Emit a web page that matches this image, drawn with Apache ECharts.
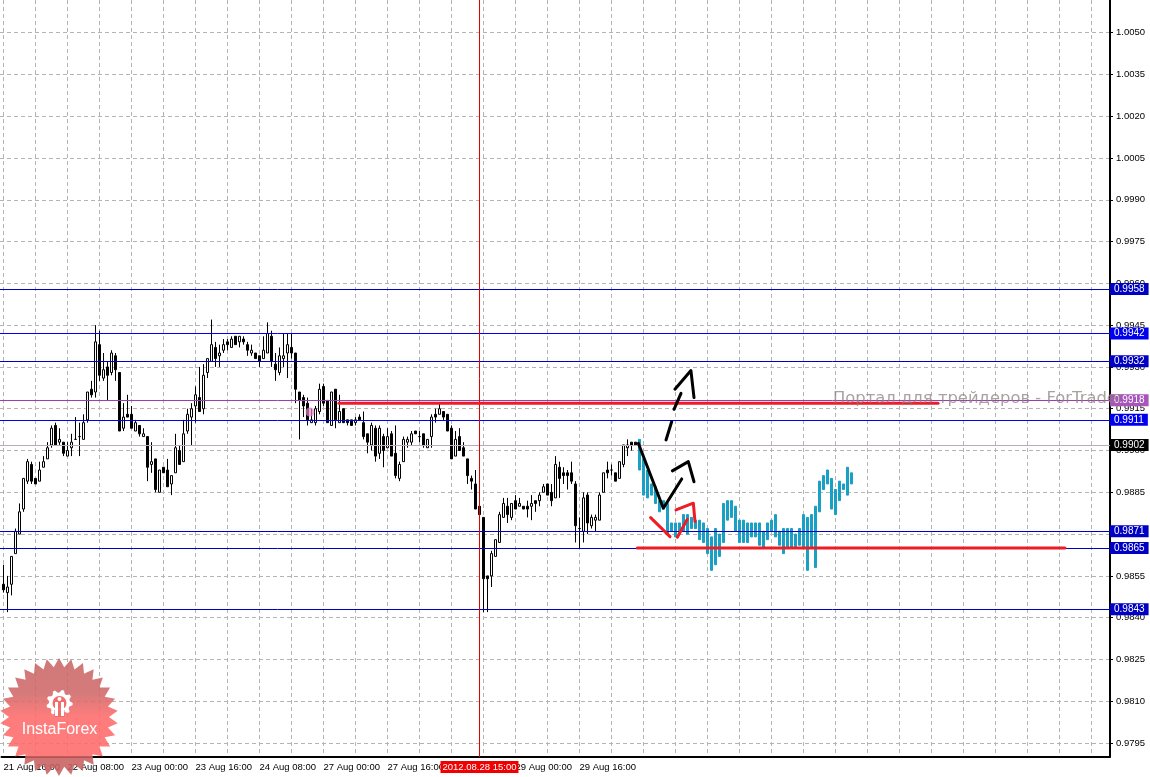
<!DOCTYPE html>
<html><head><meta charset="utf-8">
<style>html,body{margin:0;padding:0;background:#fff}#c{width:1150px;height:777px}</style>
<script src="https://cdn.jsdelivr.net/npm/echarts@6/dist/echarts.min.js"></script>
</head><body><div id="c"></div>
<script>
// price candles: [open, close, low, high], one per hourly bar
const candles = [
[.9852,.9850,.9849,.9859],[.9849,.9851,.9842,.9855],[.9852,.9862,.9848,.9862],
[.9863,.9871,.9863,.9872],[.9870,.9878,.9870,.9881],[.9879,.9890,.9878,.9890],[.9889,.9896,.9888,.9897],
[.9895,.9889,.9888,.9896],[.9890,.9888,.9888,.9890],[.9889,.9893,.9889,.9896],[.9894,.9896,.9894,.9898],
[.9897,.9901,.9897,.9903],[.9902,.9908,.9901,.9909],[.9909,.9902,.9902,.9910],[.9903,.9904,.9902,.9908],
[.9903,.9899,.9898,.9903],[.9898,.9900,.9898,.9903],[.9901,.9903,.9898,.9906],[.9904,.9904,.9904,.9912],
[.9905,.9905,.9898,.9910],[.9904,.9910,.9904,.9913],[.9911,.9921,.9910,.9921],[.9922,.9920,.9919,.9925],
[.9921,.9939,.9919,.9945],[.9938,.9927,.9925,.9943],[.9926,.9929,.9925,.9935],[.9930,.9927,.9918,.9932],
[.9928,.9935,.9927,.9936],[.9934,.9929,.9925,.9935],[.9928,.9907,.9907,.9928],[.9908,.9912,.9907,.9917],
[.9913,.9912,.9912,.9920],[.9913,.9908,.9908,.9916],[.9907,.9910,.9907,.9911],[.9909,.9906,.9905,.9909],
[.9905,.9906,.9905,.9908],[.9905,.9894,.9889,.9905],[.9895,.9896,.9892,.9903],[.9897,.9886,.9885,.9897],
[.9885,.9893,.9885,.9893],[.9894,.9892,.9892,.9894],[.9893,.9887,.9887,.9897],[.9888,.9891,.9884,.9891],
[.9892,.9901,.9892,.9906],[.9900,.9895,.9895,.9902],[.9896,.9906,.9896,.9911],[.9907,.9913,.9906,.9915],
[.9912,.9915,.9902,.9917],[.9916,.9920,.9910,.9923],[.9919,.9914,.9914,.9930],[.9915,.9927,.9913,.9931],
[.9928,.9933,.9926,.9933],[.9932,.9938,.9932,.9947],[.9937,.9933,.9930,.9939],[.9934,.9935,.9930,.9938],
[.9936,.9938,.9935,.9940],[.9939,.9938,.9936,.9940],[.9937,.9940,.9937,.9941],[.9941,.9938,.9938,.9941],
[.9939,.9941,.9937,.9941],[.9940,.9939,.9938,.9941],[.9938,.9936,.9934,.9939],[.9935,.9936,.9934,.9938],
[.9935,.9933,.9933,.9935],[.9934,.9932,.9930,.9934],[.9933,.9936,.9933,.9941],[.9935,.9942,.9935,.9946],
[.9941,.9932,.9930,.9943],[.9931,.9929,.9925,.9935],[.9928,.9934,.9927,.9937],[.9933,.9934,.9930,.9942],
[.9935,.9938,.9926,.9942],[.9937,.9935,.9933,.9942],[.9935,.9922,.9917,.9935],[.9921,.9918,.9904,.9921],
[.9919,.9916,.9912,.9920],[.9917,.9911,.9909,.9919],[.9910,.9911,.9910,.9915],[.9910,.9915,.9909,.9916],
[.9914,.9922,.9913,.9924],[.9923,.9917,.9916,.9924],[.9918,.9910,.9910,.9918],[.9909,.9921,.9909,.9921],
[.9922,.9911,.9908,.9922],[.9910,.9914,.9910,.9920],[.9915,.9910,.9910,.9915],[.9911,.9910,.9909,.9911],
[.9911,.9909,.9909,.9911],[.9910,.9911,.9909,.9912],[.9912,.9911,.9911,.9913],[.9910,.9905,.9904,.9914],
[.9906,.9903,.9899,.9906],[.9902,.9909,.9900,.9910],[.9908,.9898,.9896,.9909],[.9899,.9908,.9897,.9909],
[.9905,.9900,.9894,.9906],[.9901,.9905,.9901,.9908],[.9906,.9898,.9898,.9907],[.9899,.9891,.9890,.9909],
[.9890,.9895,.9889,.9896],[.9896,.9904,.9896,.9905],[.9903,.9904,.9901,.9905],[.9903,.9906,.9902,.9907],
[.9907,.9906,.9906,.9907],[.9905,.9905,.9903,.9907],[.9906,.9902,.9901,.9906],[.9901,.9904,.9901,.9904],
[.9905,.9912,.9901,.9913],[.9913,.9912,.9910,.9915],[.9913,.9915,.9913,.9917],[.9914,.9912,.9911,.9914],
[.9913,.9907,.9907,.9913],[.9908,.9897,.9897,.9909],[.9898,.9904,.9898,.9907],[.9905,.9900,.9900,.9908],
[.9901,.9898,.9898,.9903],[.9897,.9891,.9888,.9897],[.9890,.9889,.9886,.9891],[.9888,.9879,.9879,.9893],
[.9880,.9877,.9877,.9880],[.9876,.9854,.9842,.9876],[.9855,.9854,.9842,.9855],[.9855,.9863,.9851,.9864],
[.9862,.9868,.9862,.9868],[.9867,.9877,.9867,.9878],[.9876,.9881,.9876,.9883],[.9880,.9877,.9874,.9883],
[.9876,.9881,.9875,.9881],[.9882,.9879,.9879,.9884],[.9880,.9881,.9880,.9883],[.9880,.9879,.9879,.9880],
[.9880,.9879,.9876,.9882],[.9880,.9881,.9875,.9884],[.9882,.9881,.9878,.9882],[.9882,.9884,.9880,.9885],
[.9885,.9887,.9885,.9888],[.9888,.9884,.9884,.9888],[.9885,.9882,.9880,.9888],[.9883,.9895,.9883,.9898],
[.9894,.9890,.9883,.9896],[.9892,.9891,.9888,.9894],[.9892,.9891,.9886,.9893],[.9892,.9889,.9888,.9896],
[.9888,.9873,.9867,.9889],[.9872,.9872,.9865,.9876],[.9871,.9883,.9867,.9885],[.9884,.9874,.9870,.9885],
[.9873,.9876,.9872,.9877],[.9875,.9876,.9871,.9877],[.9875,.9884,.9875,.9885],[.9885,.9892,.9885,.9892],
[.9893,.9892,.9890,.9896],[.9893,.9893,.9891,.9895],[.9892,.9889,.9889,.9892],[.9890,.9896,.9890,.9896],
[.9895,.9902,.9894,.9902],[.9901,.9902,.9898,.9904],[.9903,.9902,.9900,.9903],[.9903,.9902,.9902,.9903]
];
// mirrored projection bars that continue the candles: [high, low]
const projection = [
[.9904,.9893],[.9897,.9884],[.9893,.9883],[.9888,.9884],[.9887,.9881],[.9882,.9878],[.9882,.9879],[.9881,.9870],
[.9874,.9871],[.9874,.9869],[.9874,.9871],[.9877,.9871],[.9877,.9870],[.9876,.9872],[.9875,.9872],[.9875,.9868],
[.9874,.9867],[.9872,.9863],[.9869,.9857],[.9872,.9859],[.9870,.9862],[.9881,.9867],[.9882,.9875],[.9882,.9876],
[.9880,.9871],[.9875,.9867],[.9875,.9867],[.9874,.9867],[.9874,.9869],[.9874,.9869],[.9874,.9866],[.9871,.9865],
[.9874,.9868],[.9875,.9871],[.9877,.9869],[.9871,.9866],[.9872,.9863],[.9872,.9865],[.9872,.9865],[.9870,.9865],
[.9872,.9866],[.9877,.9865],[.9876,.9857],[.9877,.9865],[.9880,.9858],[.9889,.9878],[.9891,.9886],[.9893,.9888],
[.9890,.9879],[.9886,.9877],[.9889,.9882],[.9888,.9886],[.9894,.9884],[.9892,.9888]
];
const priceTicks = [0.9795,0.9810,0.9825,0.9840,0.9855,0.9870,0.9885,0.9900,0.9915,0.9930,0.9945,0.9960,0.9975,0.9990,1.0005,1.0020,1.0035,1.0050];
const timeLabels = ['21 Aug 16:00','22 Aug 08:00','23 Aug 00:00','23 Aug 16:00','24 Aug 08:00','27 Aug 00:00','27 Aug 16:00','28 Aug 08:00','29 Aug 00:00','29 Aug 16:00'];
const crosshairTime = '2012.08.28 15:00';
const levelsDark = [0.9958,0.9932,0.9871,0.9865,0.9843];
const levelsBright = [0.9942,0.9911];
const levelMagenta = 0.9918;
const levelBid = 0.9902;
// hand drawn annotations as [bar number, price]
const blackMove = [[159.75,.99026],[166.0,.98793],[170.6,.98898]];
const blackHeadLow = [[168.25,.98927],[172.25,.98960],[173.67,.98888]];
const blackDash1 = [[166.67,.99038],[168.1,.99104]];
const blackDash2 = [[168.67,.99148],[170.42,.99205]];
const blackHeadHigh = [[168.9,.99220],[172.9,.99287],[173.67,.99190]];
const redStroke1 = [[162.83,.98759],[167.67,.98691]];
const redStroke2 = [[169.5,.98689],[172.0,.98753]];
const redHead = [[169.17,.98787],[173.5,.98811],[173.92,.98745]];
const redResistance = [[84.9,.9917],[234.67,.9917]];
const redSupport = [[159.5,.9865],[266.4,.9865]];
const crosshairBar = 120.04;

const N = 277, yMin = 0.97900, yMax = 1.00617;
const cats = Array.from({length:N},(_,i)=>(i%16===0 && timeLabels[i/16]) ? timeLabels[i/16] : 'b'+i);
const font = 'Liberation Sans';
const stroke = (data,color,z)=>({type:'line',xAxisIndex:0,yAxisIndex:0,data,symbol:'none',z:z||6,silent:true,animation:false,
  lineStyle:{color,width:3,cap:'round',join:'round'}});
const levelLabel = (bg,fg,txt)=>({show:true,position:'end',distance:0,formatter:txt,backgroundColor:bg,color:fg||'#fff',
  fontFamily:font,fontSize:10,padding:[1,4,1,4],lineHeight:10});
const lvl = (v,color,box,fg)=>({yAxis:v,lineStyle:{color,width:1,type:'solid'},label:levelLabel(box||color,fg,v.toFixed(4))});

const seal=[];const T=30,cx=59,cy=717;
for(let k=0;k<T*2;k++){const a=k*Math.PI/T-Math.PI/2,r=k%2?50:59;seal.push([cx+r*Math.cos(a),cy+r*Math.sin(a)]);}
const gear=[];const G=9,gx=59.5,gy=703;
for(let k=0;k<G*4;k++){const a=k*2*Math.PI/(G*4),r=(k%4<2)?13.2:10.5;gear.push([gx+r*Math.cos(a),gy+r*Math.sin(a)]);}

const chart = echarts.init(document.getElementById('c'),null,{renderer:'canvas'});
chart.setOption({
  animation:false,backgroundColor:'#fff',
  grid:[
    {left:0,top:0,width:1110,height:757,containLabel:false},
    {left:1.5,top:0,width:1108,height:757,containLabel:false}
  ],
  xAxis:[
    {gridIndex:0,type:'value',min:0.1675,max:277.67,show:false},
    {gridIndex:1,type:'category',data:cats,boundaryGap:true,position:'bottom',
      axisLine:{lineStyle:{color:'#000',width:2}},
      axisTick:{alignWithLabel:true,length:3,lineStyle:{color:'#000'},interval:(i)=>i%8===0},
      splitLine:{show:true,alignWithLabel:true,interval:(i)=>i%8===0,lineStyle:{color:'#b4b4b4',type:[4,3],width:1}},
      axisLabel:{interval:(i)=>i%16===0&&i<=144,align:'left',margin:5,color:'#000',fontFamily:font,fontSize:9.5,hideOverlap:false}
    }
  ],
  yAxis:[
    {gridIndex:0,type:'value',min:yMin,max:yMax,position:'right',
      axisLine:{show:true,onZero:false,lineStyle:{color:'#000',width:2}},
      axisTick:{show:true,length:3,lineStyle:{color:'#000'},customValues:priceTicks},
      splitLine:{show:true,lineStyle:{color:'#b4b4b4',type:[4,3],width:1}},
      axisLabel:{margin:6,color:'#000',fontFamily:font,fontSize:9.5,customValues:priceTicks,formatter:v=>v.toFixed(4)}
    },
    {gridIndex:1,type:'value',min:yMin,max:yMax,show:false,splitLine:{show:false}}
  ],
  series:[
    {type:'line',xAxisIndex:0,yAxisIndex:0,data:[],symbol:'none',z:5,silent:true,
      markLine:{silent:true,symbol:'none',animation:false,precision:5,z:5,
        data:[
          ...levelsDark.map(v=>lvl(v,'#0000c4')),
          ...levelsBright.map(v=>lvl(v,'#0000ee')),
          lvl(levelMagenta,'#9a3fb0','#a855bb'),
          {yAxis:levelBid,lineStyle:{color:'#b9abb9',width:1,type:'solid'},label:levelLabel('#000','#fff',levelBid.toFixed(4))},
          {xAxis:crosshairBar,lineStyle:{color:'#e00000',width:1,type:'solid'},
            label:{show:true,position:'start',distance:4,rotate:0,formatter:crosshairTime,backgroundColor:'#f00000',color:'#fff',fontFamily:font,fontSize:9.5,padding:[1,2,1,2]}}
        ]}
    },
    {name:'USD/CHF',type:'candlestick',xAxisIndex:1,yAxisIndex:1,data:candles,barWidth:3,z:3,
      itemStyle:{color:'#fff',color0:'#000',borderColor:'#000',borderColor0:'#000',borderWidth:1}},
    {name:'Projection',type:'candlestick',xAxisIndex:1,yAxisIndex:1,barWidth:3,z:4,
      data:new Array(candles.length).fill('-').concat(projection.map(p=>[p[1],p[0],p[1],p[0]])),
      itemStyle:{color:'#19a0c4',color0:'#19a0c4',borderColor:'#19a0c4',borderColor0:'#19a0c4',borderWidth:1}},
    stroke(redResistance,'#ee1c24',5),stroke(redSupport,'#ee1c24',5),
    stroke(blackMove,'#000'),stroke(blackHeadLow,'#000'),stroke(blackDash1,'#000'),stroke(blackDash2,'#000'),stroke(blackHeadHigh,'#000'),
    stroke(redStroke1,'#ee1c24'),stroke(redStroke2,'#ee1c24'),stroke(redHead,'#ee1c24')
  ],
  graphic:[
    {type:'circle',shape:{cx:310,cy:412,r:4.5},style:{fill:'#e487c8',opacity:.7},z:20,silent:true},
    {type:'text',x:833,y:391,z:30,silent:true,style:{text:'Портал для трейдеров - ForTrader',fill:'rgba(140,125,125,.72)',font:'16.4px "DejaVu Sans"'}},
    {type:'polygon',shape:{points:seal},z:40,silent:true,style:{opacity:.88,fill:new echarts.graphic.LinearGradient(0,0,0,1,[
      {offset:0,color:'#c96666'},{offset:.3,color:'#d06868'},{offset:.5,color:'#ff6a6a'},{offset:.83,color:'#ff6a6a'},{offset:.84,color:'#c86060'},{offset:1,color:'#c86060'}])}},
    {type:'polygon',shape:{points:gear},z:41,silent:true,style:{fill:'#fff'}},
    {type:'circle',shape:{cx:gx,cy:gy,r:7},z:42,silent:true,style:{fill:'#f26c6c'}},
    {type:'rect',shape:{x:gx-5,y:gy+7,width:10,height:7},z:42,silent:true,style:{fill:'#f26c6c'}},
    {type:'circle',shape:{cx:gx,cy:gy-4,r:2},z:43,silent:true,style:{fill:'#fff'}},
    {type:'rect',shape:{x:gx-4.5,y:gy-1,width:3,height:14},z:43,silent:true,style:{fill:'#fff'}},
    {type:'rect',shape:{x:gx+1.5,y:gy-1,width:3,height:14},z:43,silent:true,style:{fill:'#fff'}},
    {type:'text',x:59.5,y:730,z:44,silent:true,style:{text:'InstaForex',fill:'#fff',align:'center',verticalAlign:'middle',font:'16px "Liberation Sans"'}}
  ]
});
</script></body></html>
